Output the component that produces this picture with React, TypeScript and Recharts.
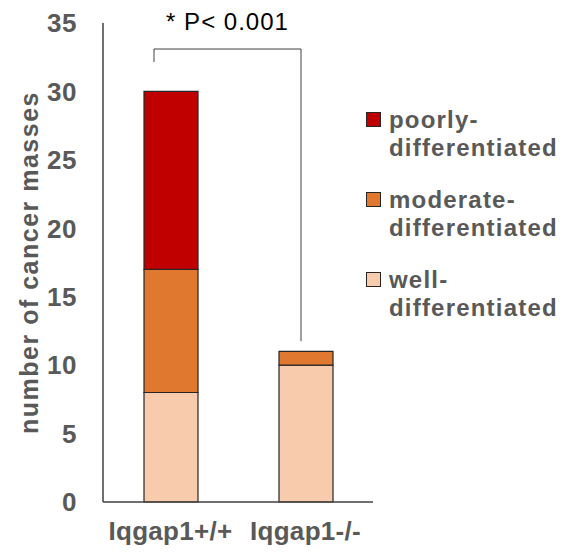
import React from 'react';
import { BarChart, Bar, XAxis, YAxis, Customized } from 'recharts';

const categories = ['Iqgap1+/+', 'Iqgap1-/-'];
const wellDiff = [8, 10];
const moderateDiff = [9, 1];
const poorlyDiff = [13, 0];
const yTicks = [0, 5, 10, 15, 20, 25, 30, 35];

const series = [
    { key: 'well', name: 'well-\ndifferentiated', color: '#F8CBAD' },
    { key: 'moderate', name: 'moderate-\ndifferentiated', color: '#E07830' },
    { key: 'poorly', name: 'poorly-\ndifferentiated', color: '#C00000' },
];

const data = categories.map((name, i) => ({
    name,
    well: wellDiff[i],
    moderate: moderateDiff[i],
    poorly: poorlyDiff[i],
}));

const GREY = '#595959';
const AXIS = '#404040';
const FONT = '"Liberation Sans", Arial, sans-serif';

// plot box
const PLOT = { left: 103, top: 23, right: 373, bottom: 502 };
const Y_MAX = 35;
const yPx = (v: number) => PLOT.bottom - ((PLOT.bottom - PLOT.top) * v) / Y_MAX;

// significance bracket
const Bracket = () => {
    const top = yPx(33.1);
    const x1 = 154;
    const x2 = 301;
    return (
        <g>
            <path
                d={`M${x1},${yPx(32.15)} L${x1},${top} L${x2},${top} L${x2},${yPx(11.75)}`}
                fill="none"
                stroke={AXIS}
                strokeWidth={1}
            />
            <text
                x={(x1 + x2) / 2}
                y={30}
                textAnchor="middle"
                fontSize={24}
                letterSpacing={1}
                fill="#000"
                fontFamily={FONT}
            >
                * P&lt; 0.001
            </text>
        </g>
    );
};

const LegendContent = () => (
    <div style={{ fontFamily: FONT }}>
        {[...series].reverse().map((s) => (
            <div key={s.key} style={{ display: 'flex', alignItems: 'flex-start', marginBottom: 24 }}>
                <div
                    style={{
                        width: 13,
                        height: 13,
                        marginTop: 6,
                        marginRight: 8,
                        background: s.color,
                        border: '1px solid #262626',
                        flexShrink: 0,
                    }}
                />
                <div
                    style={{
                        whiteSpace: 'pre',
                        fontSize: 24,
                        lineHeight: '28px',
                        fontWeight: 'bold',
                        letterSpacing: 1.2,
                        color: GREY,
                    }}
                >
                    {s.name}
                </div>
            </div>
        ))}
    </div>
);

export default function App() {
    return (
        <div style={{ position: 'absolute', left: 0, top: 0, width: 565, height: 554, background: '#fff' }}>
            <BarChart
                width={565}
                height={554}
                data={data}
                margin={{ top: PLOT.top, right: 565 - PLOT.right, bottom: 0, left: 0 }}
                barSize={54}
            >
                <YAxis
                    width={PLOT.left}
                    domain={[0, Y_MAX]}
                    ticks={yTicks}
                    interval={0}
                    tickLine={false}
                    tickSize={0}
                    tickMargin={26}
                    axisLine={{ stroke: AXIS, strokeWidth: 1.5 }}
                    tick={{ fill: GREY, fontSize: 26, fontWeight: 'bold', fontFamily: FONT, letterSpacing: 0.5 }}
                    label={{
                        value: 'number of cancer masses',
                        angle: -90,
                        position: 'center',
                        dx: -22,
                        style: {
                            fill: GREY,
                            fontSize: 25,
                            fontWeight: 'bold',
                            fontFamily: FONT,
                            letterSpacing: 1.5,
                            textAnchor: 'middle',
                        },
                    }}
                />
                <XAxis
                    dataKey="name"
                    height={554 - PLOT.bottom}
                    tickLine={false}
                    tickSize={0}
                    tickMargin={20}
                    axisLine={{ stroke: AXIS, strokeWidth: 1.5 }}
                    tick={{ fill: GREY, fontSize: 26, fontWeight: 'bold', fontFamily: FONT, letterSpacing: 0.3 }}
                />
                {series.map((s) => (
                    <Bar
                        key={s.key}
                        dataKey={s.key}
                        name={s.name}
                        stackId="a"
                        fill={s.color}
                        stroke="#262626"
                        strokeWidth={1.2}
                        isAnimationActive={false}
                    />
                ))}
                <Customized component={Bracket} />
            </BarChart>
            <div style={{ position: 'absolute', left: 366, top: 106 }}>
                <LegendContent />
            </div>
        </div>
    );
}
